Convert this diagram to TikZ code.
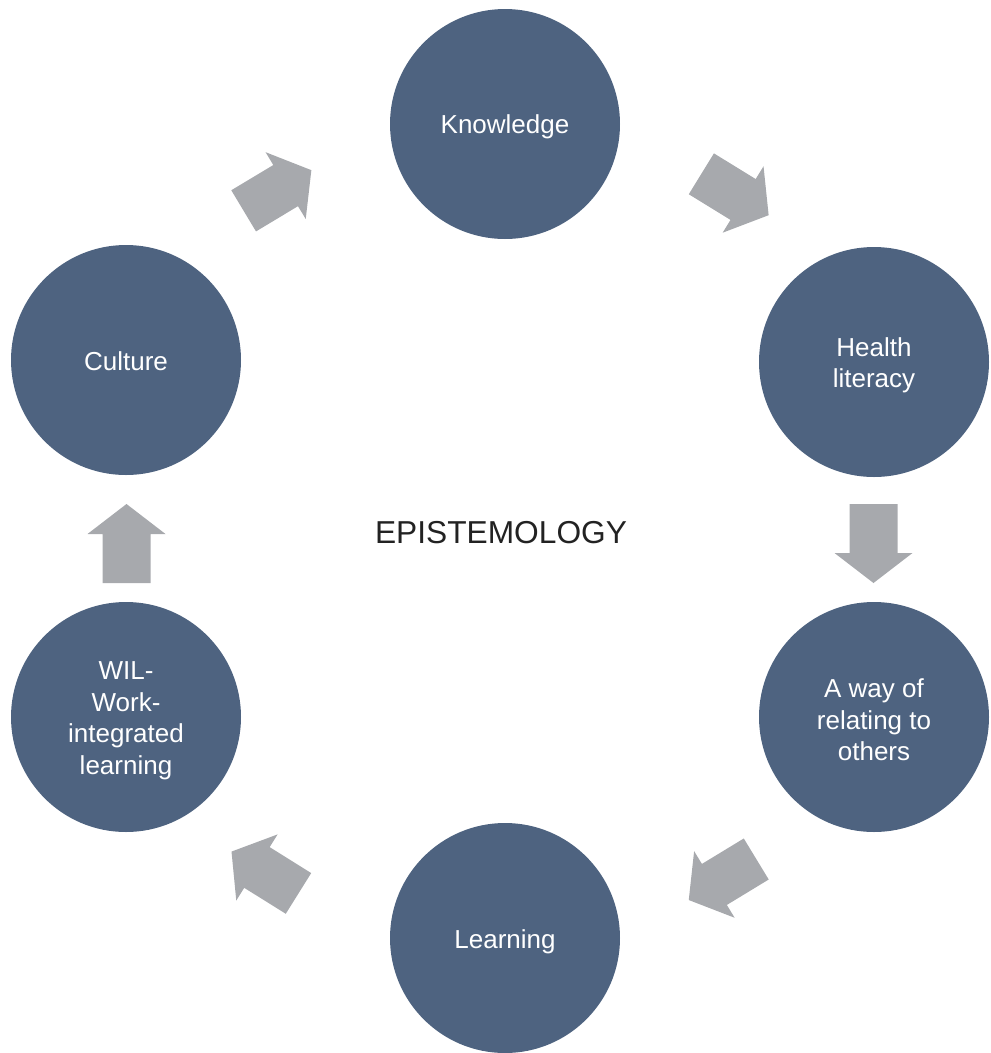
\documentclass[tikz,border=0pt]{standalone}
\usepackage{fontspec}
\setmainfont{Liberation Sans}
\definecolor{circfill}{RGB}{78,99,128}
\definecolor{arrowgray}{RGB}{167,169,173}
\definecolor{labeltext}{RGB}{34,34,34}
\begin{document}
\begin{tikzpicture}[x=1pt,y=-1pt,
  stage/.style={circle, fill=circfill, minimum size=230pt, inner sep=0pt},
  stagetext/.style={text=white, align=center, inner sep=0pt,
    font=\fontsize{26}{31.5}\selectfont},
  blockarrow/.style={fill=arrowgray},
  title/.style={text=labeltext, font=\fontsize{31.7}{36}\selectfont}]
\useasboundingbox (0,0) rectangle (991,1053);

% the six stages of the cycle
\node[stage] (know)   at (505,124) {};
\node[stage] (health) at (874,362) {};
\node[stage] (relate) at (874,717) {};
\node[stage] (learn)  at (505,938) {};
\node[stage] (wil)    at (126,717) {};
\node[stage] (cult)   at (126,360) {};

% stage captions, set a little below each circle's centre
\node[stagetext] (know-t)   at ([yshift=-3pt]know.center)   {Knowledge};
\node[stagetext] (health-t) at ([yshift=-3.5pt]health.center) {Health\\literacy};
\node[stagetext] (relate-t) at ([yshift=-3pt]relate.center) {A way of\\relating to\\others};
\node[stagetext] (learn-t)  at ([yshift=-4pt]learn.center)  {Learning};
\node[stagetext] (wil-t)    at ([yshift=-3.5pt]wil.center)    {WIL-\\Work-\\integrated\\learning};
\node[stagetext] (cult-t)   at ([yshift=-1pt]cult.center)   {Culture};

% centre label
\node[title] (epi) at (501,533) {EPISTEMOLOGY};

% block arrows between neighbouring stages
\coordinate (a1) at (277.5,190.5);
\coordinate (a2) at (735,194.5);
\coordinate (a3) at (873.5,543.5);
\coordinate (a4) at (722.5,879.5);
\coordinate (a5) at (265,872.5);
\coordinate (a6) at (126.5,543.5);
\foreach \c/\ang in {a1/31, a2/-31.6, a3/-90, a4/-148.7, a5/148, a6/90}{
  \fill[blockarrow, shift={(\c)}, rotate=\ang]
    (-39.5,24) -- (9.5,24) -- (9.5,39) -- (39.5,0) -- (9.5,-39)
    -- (9.5,-24) -- (-39.5,-24) -- cycle;
}
\end{tikzpicture}
\end{document}
